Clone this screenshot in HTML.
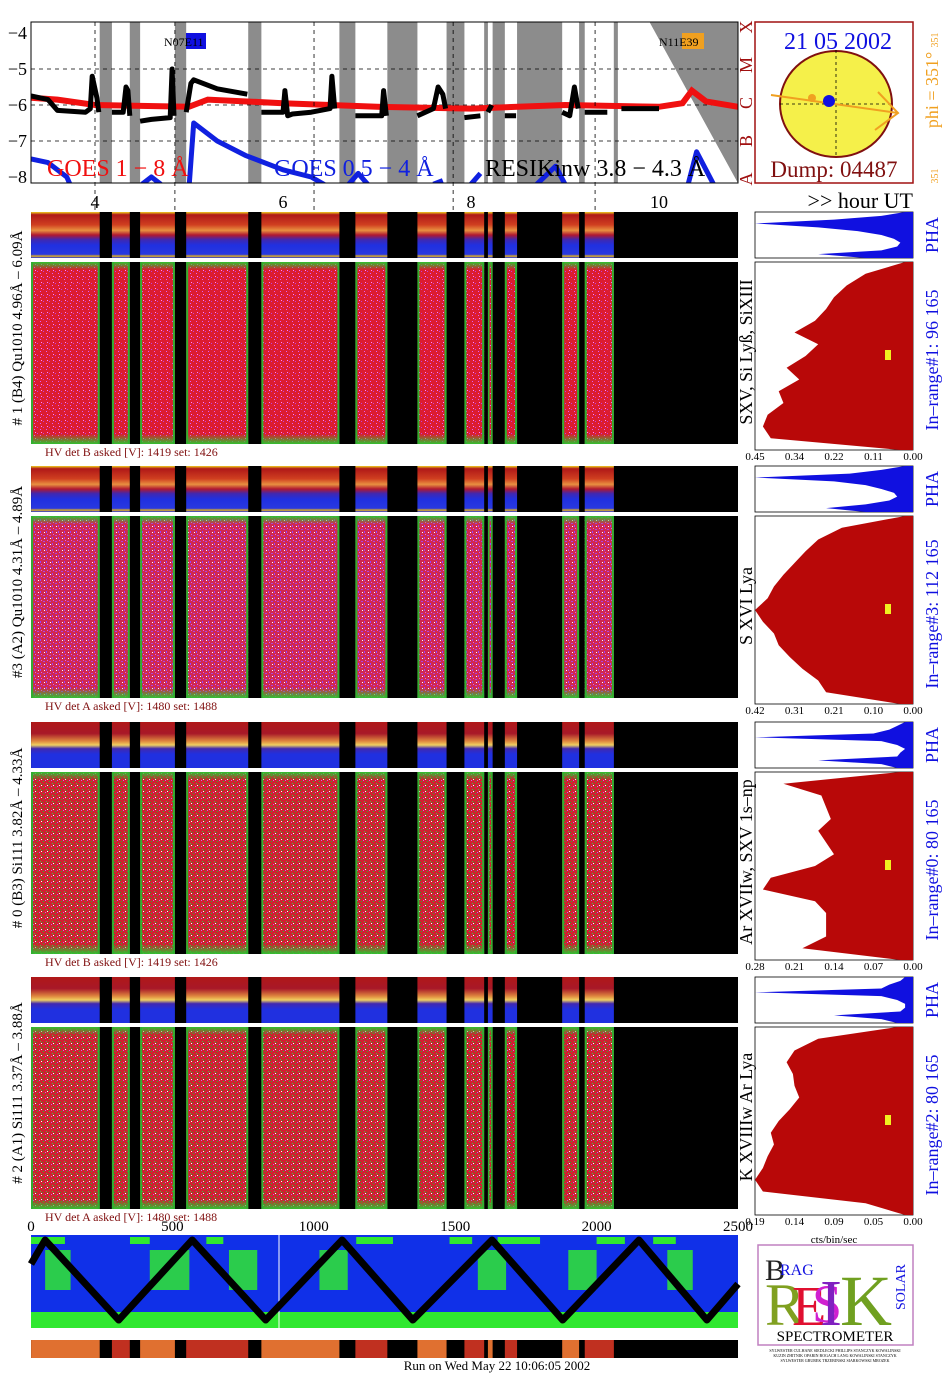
<!DOCTYPE html>
<html><head><meta charset="utf-8">
<style>
html,body{margin:0;padding:0;background:#fff;}
svg{display:block;font-family:"Liberation Serif",serif;}
</style></head>
<body>
<svg id="s" width="948" height="1377" viewBox="0 0 948 1377" xmlns="http://www.w3.org/2000/svg">
<defs>
<clipPath id="goesClip"><rect x="31" y="22" width="707" height="161"/></clipPath>
<pattern id="pRedMag" width="6" height="6" patternUnits="userSpaceOnUse">
<rect width="6" height="6" fill="#dc1c30"/><rect x="1" y="1" width="1" height="1" fill="#c040e0"/><rect x="4" y="3" width="1" height="1" fill="#e060f0"/><rect x="5" y="0" width="1" height="1" fill="#ff80ff"/>
</pattern>
<pattern id="pMag" width="6" height="6" patternUnits="userSpaceOnUse">
<rect width="6" height="6" fill="#d02850"/><rect x="1" y="1" width="2" height="1" fill="#b040e0"/><rect x="4" y="3" width="1" height="2" fill="#9a40ff"/><rect x="2" y="4" width="1" height="1" fill="#ffffff"/><rect x="5" y="0" width="1" height="1" fill="#e060f0"/>
</pattern>
<pattern id="pRedGreen" width="6" height="6" patternUnits="userSpaceOnUse">
<rect width="6" height="6" fill="#d02030"/><rect x="1" y="1" width="1" height="1" fill="#30b030"/><rect x="4" y="3" width="1" height="1" fill="#40c040"/><rect x="0" y="4" width="1" height="1" fill="#2a9a2a"/><rect x="3" y="0" width="1" height="1" fill="#d060f0"/><rect x="5" y="5" width="1" height="1" fill="#ffffff"/>
</pattern>
<linearGradient id="gStrip" x1="0" y1="0" x2="0" y2="1">
<stop offset="0" stop-color="#f0d020"/><stop offset="0.06" stop-color="#b01818"/><stop offset="0.28" stop-color="#d04020"/><stop offset="0.4" stop-color="#e89040"/><stop offset="0.5" stop-color="#b01830"/><stop offset="0.6" stop-color="#4028b0"/><stop offset="0.72" stop-color="#2030e0"/><stop offset="0.92" stop-color="#2838e0"/><stop offset="0.96" stop-color="#e0b020"/><stop offset="1" stop-color="#2030e0"/>
</linearGradient>
<linearGradient id="gStrip2" x1="0" y1="0" x2="0" y2="1">
<stop offset="0" stop-color="#b01818"/><stop offset="0.25" stop-color="#a81828"/><stop offset="0.42" stop-color="#e08a40"/><stop offset="0.5" stop-color="#f0d060"/><stop offset="0.58" stop-color="#4028b0"/><stop offset="0.7" stop-color="#2030e0"/><stop offset="1" stop-color="#2030e0"/>
</linearGradient>
<linearGradient id="gGreenTop" x1="0" y1="0" x2="0" y2="1"><stop offset="0" stop-color="#30c030"/><stop offset="1" stop-color="#30c030" stop-opacity="0"/></linearGradient>
<linearGradient id="gGreenBot" x1="0" y1="1" x2="0" y2="0"><stop offset="0" stop-color="#30c030"/><stop offset="1" stop-color="#30c030" stop-opacity="0"/></linearGradient>
</defs>
<g id="root"></g>
</svg>
<script>
// ---------- data ----------
const hourTicks = [4, 6, 8, 10];
const logTicks = [-4, -5, -6, -7, -8];
const classLabels = ["X", "M", "C", "B", "A"];
const gapStart = [4.05, 4.37, 4.85, 5.63, 6.60, 7.11, 7.74, 8.14, 8.23, 8.49, 9.15, 9.52];
const gapEnd   = [4.18, 4.48, 4.97, 5.77, 6.77, 7.43, 7.93, 8.18, 8.36, 8.97, 9.21, 10.84];
const orbitMarks = [4.0, 4.85, 6.33, 7.81, 9.32];
const goesLongT = [3.32, 3.6, 4.0, 5.0, 5.2, 6.0, 7.0, 8.0, 9.0, 10.0, 10.25, 10.35, 10.5, 10.84];
const goesLongV = [-5.8, -5.85, -6.0, -6.05, -5.85, -5.95, -6.05, -6.1, -6.0, -6.05, -5.95, -5.6, -5.9, -6.05];
const resikT = [3.32,3.5,3.6,3.9,3.95,3.97,4.02,4.04,null,4.18,4.3,4.33,4.35,4.37,null,4.48,4.6,4.8,4.82,4.84,null,4.97,5.02,5.05,5.3,5.62,null,5.77,6.0,6.02,6.05,6.1,6.3,6.5,6.52,6.55,null,6.77,7.05,7.07,7.1,null,7.43,7.6,7.65,7.7,7.73,null,7.93,8.1,null,8.18,8.22,null,8.36,8.48,null,8.97,9.05,9.1,9.12,9.14,null,9.21,9.45,null,9.6,10.0];
const resikV = [-5.75,-5.85,-6.15,-6.2,-6.1,-5.2,-5.8,-6.2,null,-6.2,-6.2,-5.5,-5.6,-6.3,null,-6.45,-6.4,-6.35,-5.0,-6.3,null,-6.2,-5.4,-5.3,-5.55,-5.7,null,-6.2,-6.2,-5.6,-6.3,-6.25,-6.2,-6.1,-5.2,-6.1,null,-6.3,-6.3,-5.6,-6.3,null,-6.3,-6.1,-5.5,-5.7,-6.1,null,-6.35,-6.3,null,-6.2,-6.0,null,-6.3,-6.3,null,-6.2,-6.3,-5.5,-5.8,-6.1,null,-6.2,-6.2,null,-6.1,-6.1];
const goesShortT = [3.32,3.5,3.7,3.75,null,4.5,4.6,4.7,null,5.0,5.05,5.3,5.6,6.0,6.3,6.5,null,6.7,6.8,6.9,null,7.6,7.7,null,8.0,8.1,null,8.7,8.9,9.0,null,10.3,10.4,10.5,10.6];
const goesShortV = [-7.5,-7.6,-8.0,-8.3,null,-8.2,-8.0,-8.2,null,-8.3,-6.5,-7.0,-7.4,-7.8,-8.0,-8.3,null,-8.2,-7.9,-8.2,null,-8.2,-8.1,null,-8.2,-7.9,null,-8.2,-7.7,-8.2,null,-8.3,-7.3,-7.8,-8.3];
const detLabels = ["# 1 (B4) Qu1010 4.96Å – 6.09Å","#3 (A2) Qu1010  4.31Å – 4.89Å","# 0 (B3) Si111  3.82Å – 4.33Å","# 2 (A1) Si111  3.37Å – 3.88Å"];
const lineLabels = ["SXV, Si Lyß, SiXIII","S XVI Lya","Ar XVIIw,  SXV 1s–np","K XVIIIw  Ar Lya"];
const rangeLabels = ["In–range#1:  96 165","In–range#3:  112 165","In–range#0:  80 165","In–range#2:  80 165"];
const hvLabels = ["HV det B asked [V]:  1419 set:  1426","HV det A asked [V]:  1480 set:  1488","HV det B asked [V]:  1419 set:  1426","HV det A asked [V]:  1480 set:  1488"];
const histTicks0 = ["0.45","0.34","0.22","0.11","0.00"];
const histTicks1 = ["0.42","0.31","0.21","0.10","0.00"];
const histTicks2 = ["0.28","0.21","0.14","0.07","0.00"];
const histTicks3 = ["0.19","0.14","0.09","0.05","0.00"];
const hist0 = [0.05,0.3,0.42,0.5,0.55,0.62,0.75,0.6,0.68,0.8,0.72,0.85,0.82,0.92,0.95,0.9,0.08];
const hist1 = [0.05,0.45,0.6,0.68,0.75,0.82,0.88,0.92,1.0,0.95,0.88,0.85,0.78,0.7,0.6,0.55,0.08];
const hist2 = [0.08,0.82,0.58,0.55,0.52,0.6,0.55,0.5,0.62,0.9,0.95,0.62,0.55,0.55,0.55,0.7,0.08];
const hist3 = [0.1,0.6,0.75,0.8,0.76,0.75,0.72,0.78,0.85,0.9,0.88,0.92,0.95,1.0,0.95,0.3,0.05];
const pha0 = [0.05,0.2,0.5,1.0,0.6,0.35,0.2,0.12,0.08,0.1,0.2,0.6,0.3];
const pha1 = [0.05,0.2,0.4,1.0,0.5,0.3,0.2,0.12,0.1,0.15,0.3,0.55,0.3];
const pha2 = [0.05,0.1,0.15,0.25,1.0,0.2,0.1,0.05,0.08,0.1,0.6,0.2,0.1];
const pha3 = [0.05,0.08,0.15,0.2,1.0,0.2,0.1,0.05,0.05,0.08,0.5,0.2,0.1];
const idxTicks = [0, 500, 1000, 1500, 2000, 2500];
const zigIdx = [0, 50, 310, 570, 830, 1100, 1350, 1630, 1880, 2150, 2390, 2500];
const zigLevel = [0.7, 1, 0, 1, 0, 1, 0, 1, 0, 1, 0, 0.45];

// ---------- helpers ----------
const NS = "http://www.w3.org/2000/svg";
const root = document.getElementById("root");
function mk(tag, attrs, parent, text){
  const e = document.createElementNS(NS, tag);
  for (const k in attrs) e.setAttribute(k, attrs[k]);
  if (text !== undefined) e.textContent = text;
  (parent || root).appendChild(e);
  return e;
}
const X0 = 31, X1 = 738;
const xH = h => 95 + (h - 4) * 94;
const yL = v => 33 + (-4 - v) * 36;
const xI = i => X0 + i * (X1 - X0) / 2500;

// ---------- GOES panel ----------
const goes = mk("g", {});


const gc = mk("g", {"clip-path": "url(#goesClip)"}, goes);
for (let i = 0; i < gapStart.length; i++) {
  const r = mk("rect", {x: xH(gapStart[i]), y: 22, width: xH(gapEnd[i]) - xH(gapStart[i]), height: 161, fill: "#8c8c8c"}, gc);
  
  
}
mk("polygon", {points: `${xH(9.52)},183 ${xH(9.52)},22 ${xH(9.9)},22 ${X1},183`, fill: "#fff"}, gc);
mk("polygon", {points: `${xH(9.9)},22 ${X1},22 ${X1},183`, fill: "#8c8c8c"}, gc);
mk("rect", {x: xH(9.52), y: 22, width: 4, height: 161, fill: "#8c8c8c"}, gc);
logTicks.slice(1, 4).forEach(v => {
  const l = mk("line", {x1: X0, x2: X1, y1: yL(v), y2: yL(v), stroke: "#000", "stroke-dasharray": "4,4", "stroke-width": 0.8}, gc);
  
  
});
orbitMarks.forEach(h => {
  const l = mk("line", {x1: xH(h), x2: xH(h), y1: 22, y2: 212, stroke: "#000", "stroke-dasharray": "4,4", "stroke-width": 0.8}, goes);
  
  
});
function pathFrom(T, V){
  let d = "", pen = false;
  for (let i = 0; i < T.length; i++) {
    if (T[i] === null) { pen = false; continue; }
    d += (pen ? "L" : "M") + xH(T[i]).toFixed(1) + "," + yL(V[i]).toFixed(1) + " ";
    pen = true;
  }
  return d;
}
const blue = mk("path", {d: pathFrom(goesShortT, goesShortV), fill: "none", stroke: "#1020e0", "stroke-width": 5, "stroke-linejoin": "round"}, gc);


const red = mk("path", {d: pathFrom(goesLongT, goesLongV), fill: "none", stroke: "#f01010", "stroke-width": 6}, gc);


const blk = mk("path", {d: pathFrom(resikT, resikV), fill: "none", stroke: "#000", "stroke-width": 5, "stroke-linejoin": "round"}, gc);


mk("rect", {x: X0, y: 22, width: X1 - X0, height: 161, fill: "none", stroke: "#000", "stroke-width": 1}, goes);
logTicks.forEach(v => {
  const t = mk("text", {x: 27, y: yL(v) + 6, "text-anchor": "end", "font-size": 18}, goes, "−" + Math.abs(v));
  
  
});
classLabels.forEach((c, i) => {
  const y = 27 + i * 38;
  const t = mk("text", {x: 0, y: 0, transform: `translate(752,${y}) rotate(-90)`, "text-anchor": "middle", "font-size": 18, fill: "#a01010"}, goes, c);
  
  
});
const ar1 = mk("g", {}, goes);


mk("rect", {x: 186, y: 33, width: 20, height: 16, fill: "#1010e0"}, ar1);
mk("text", {x: 164, y: 46, "font-size": 12}, ar1, "N07E11");
const ar2 = mk("g", {}, goes);


mk("rect", {x: 682, y: 33, width: 22, height: 16, fill: "#f0a020"}, ar2);
mk("text", {x: 659, y: 46, "font-size": 12}, ar2, "N11E39");
[["GOES 1 − 8 Å", 47, "#f01010", "goes-long-legend"], ["GOES 0.5 − 4 Å", 274, "#1020e0", "goes-short-legend"], ["RESIKinw 3.8 − 4.3 Å", 485, "#000", "resik-legend"]].forEach(a => {
  const t = mk("text", {x: a[1], y: 176, "font-size": 24, fill: a[2]}, goes, a[0]);
  
  
});
hourTicks.forEach(h => {
  const t = mk("text", {x: xH(h), y: 208, "text-anchor": "middle", "font-size": 18}, goes, String(h));
  
  
});
const hut = mk("text", {x: 913, y: 208, "text-anchor": "end", "font-size": 22}, goes, ">> hour UT");



// ---------- sun panel ----------
const sun = mk("g", {});


mk("rect", {x: 755, y: 22, width: 158, height: 161, fill: "#fff", stroke: "#a01010", "stroke-width": 1.5}, sun);
mk("ellipse", {cx: 836, cy: 104, rx: 56, ry: 53, fill: "#f5f04a", stroke: "#801010", "stroke-width": 2}, sun);
mk("line", {x1: 836, x2: 836, y1: 50, y2: 158, stroke: "#000", "stroke-dasharray": "3,3", "stroke-width": 0.8}, sun);
mk("line", {x1: 780, x2: 892, y1: 104, y2: 104, stroke: "#000", "stroke-dasharray": "3,3", "stroke-width": 0.8}, sun);
mk("line", {x1: 771, x2: 898, y1: 95, y2: 113, stroke: "#f0a020", "stroke-width": 2}, sun);
mk("polyline", {points: "878,92 898,113 875,130", fill: "none", stroke: "#f0a020", "stroke-width": 2}, sun);
mk("circle", {cx: 812, cy: 98, r: 4, fill: "#f0a020"}, sun);
mk("circle", {cx: 829, cy: 101, r: 6, fill: "#1010e0"}, sun);
mk("text", {x: 838, y: 49, "text-anchor": "middle", "font-size": 24, fill: "#1010e0"}, sun, "21 05 2002");
mk("text", {x: 834, y: 177, "text-anchor": "middle", "font-size": 23, fill: "#801010"}, sun, "Dump: 04487");
mk("text", {x: 0, y: 0, transform: "translate(938,90) rotate(-90)", "text-anchor": "middle", "font-size": 18, fill: "#f0a020"}, sun, "phi = 351°");
mk("text", {x: 0, y: 0, transform: "translate(938,40) rotate(-90)", "text-anchor": "middle", "font-size": 10, fill: "#f0a020"}, sun, "351");
mk("text", {x: 0, y: 0, transform: "translate(938,176) rotate(-90)", "text-anchor": "middle", "font-size": 10, fill: "#f0a020"}, sun, "351");

// ---------- detector panels ----------
const panelTop = [212, 466, 722, 977];
const fills = ["url(#pRedMag)", "url(#pMag)", "url(#pRedGreen)", "url(#pRedGreen)"];
const strips = ["url(#gStrip)", "url(#gStrip)", "url(#gStrip2)", "url(#gStrip2)"];
const hists = [hist0, hist1, hist2, hist3];
const phas = [pha0, pha1, pha2, pha3];
const htick = [histTicks0, histTicks1, histTicks2, histTicks3];
const segStart = [3.32].concat(gapEnd.slice(0, -1));
const segEnd = gapStart.slice();
for (let p = 0; p < 4; p++) {
  const top = panelTop[p];
  const g = mk("g", {});
  
  
  mk("rect", {x: X0, y: top, width: X1 - X0, height: 46, fill: "#000"}, g);
  mk("rect", {x: X0, y: top + 50, width: X1 - X0, height: 182, fill: "#000"}, g);
  for (let s = 0; s < segStart.length; s++) {
    const xa = xH(segStart[s]), w = xH(segEnd[s]) - xa;
    const st = mk("rect", {x: xa, y: top, width: w, height: 46, fill: strips[p]}, g);
    
    
    const sp = mk("rect", {x: xa, y: top + 50, width: w, height: 182, fill: fills[p]}, g);
    
    
    mk("rect", {x: xa, y: top + 50, width: w, height: 8, fill: "url(#gGreenTop)"}, g);
    mk("rect", {x: xa, y: top + 222, width: w, height: 10, fill: "url(#gGreenBot)"}, g);
    const ew = Math.min(2, w / 3);
    mk("rect", {x: xa, y: top + 50, width: ew, height: 182, fill: "#30b030"}, g);
    mk("rect", {x: xa + w - ew, y: top + 50, width: ew, height: 182, fill: "#30b030"}, g);
  }
  mk("line", {x1: X0, x2: X1, y1: top + 48, y2: top + 48, stroke: "#fff", "stroke-width": 2}, g);
  const hv = mk("text", {x: 45, y: top + 244, "font-size": 12, fill: "#801010"}, g, hvLabels[p]);
  
  
  const dl = mk("text", {x: 0, y: 0, transform: `translate(22,${top + 116}) rotate(-90)`, "text-anchor": "middle", "font-size": 15}, g, detLabels[p]);
  
  
  const hx0 = 755, hx1 = 913;
  mk("rect", {x: hx0, y: top, width: hx1 - hx0, height: 46, fill: "#fff", stroke: "#000", "stroke-width": 0.8}, g);
  const ph = phas[p];
  let pts = `${hx1},${top}`;
  ph.forEach((v, i) => { pts += ` ${hx1 - v * (hx1 - hx0)},${top + i * 46 / (ph.length - 1)}`; });
  pts += ` ${hx1},${top + 46}`;
  const pp = mk("polygon", {points: pts, fill: "#1010e0"}, g);
  
  
  const hy0 = top + 50, hy1 = top + 238;
  mk("rect", {x: hx0, y: hy0, width: hx1 - hx0, height: hy1 - hy0, fill: "#fff", stroke: "#000", "stroke-width": 0.8}, g);
  const hv2 = hists[p];
  let hp = `${hx1},${hy0}`;
  hv2.forEach((v, i) => { hp += ` ${hx1 - v * (hx1 - hx0)},${hy0 + i * (hy1 - hy0) / (hv2.length - 1)}`; });
  hp += ` ${hx1},${hy1}`;
  const hpoly = mk("polygon", {points: hp, fill: "#b80808"}, g);
  
  
  mk("rect", {x: 885, y: top + 138, width: 6, height: 10, fill: "#f0f020"}, g);
  htick[p].forEach((t, i) => {
    const tt = mk("text", {x: hx0 + i * (hx1 - hx0) / 4, y: hy1 + 10, "text-anchor": "middle", "font-size": 11}, g, t);
    
    
  });
  const pl = mk("text", {x: 0, y: 0, transform: `translate(938,${top + 23}) rotate(-90)`, "text-anchor": "middle", "font-size": 18, fill: "#1010e0"}, g, "PHA");
  
  
  const rl = mk("text", {x: 0, y: 0, transform: `translate(938,${top + 148}) rotate(-90)`, "text-anchor": "middle", "font-size": 18, fill: "#1010e0"}, g, rangeLabels[p]);
  
  
  const ll = mk("text", {x: 0, y: 0, transform: `translate(752,${top + 140}) rotate(-90)`, "text-anchor": "middle", "font-size": 18}, g, lineLabels[p]);
  
  
}
const cbs = mk("text", {x: 834, y: 1243, "text-anchor": "middle", "font-size": 11}, root, "cts/bin/sec");



// ---------- bottom panel ----------
const bot = mk("g", {});


idxTicks.forEach(i => {
  const t = mk("text", {x: xI(i), y: 1231, "text-anchor": "middle", "font-size": 15}, bot, String(i));
  
  
});
mk("rect", {x: X0, y: 1235, width: X1 - X0, height: 93, fill: "#1030e8"}, bot);
mk("rect", {x: X0, y: 1312, width: X1 - X0, height: 16, fill: "#30e830"}, bot);
[[0,120],[350,420],[620,680],[1150,1280],[1480,1560],[1650,1800],[2000,2100],[2200,2280]].forEach(r => {
  mk("rect", {x: xI(r[0]), y: 1237, width: xI(r[1]) - xI(r[0]), height: 7, fill: "#30e830"}, bot);
});
[[50,140],[420,560],[700,800],[1020,1120],[1580,1680],[1900,2000],[2250,2340]].forEach(r => {
  mk("rect", {x: xI(r[0]), y: 1250, width: xI(r[1]) - xI(r[0]), height: 40, fill: "#30e830", opacity: 0.85}, bot);
});
mk("line", {x1: 279, x2: 279, y1: 1235, y2: 1328, stroke: "#fff", "stroke-width": 1}, bot);
let zp = "";
zigIdx.forEach((i, k) => { zp += (k ? " " : "") + xI(i).toFixed(1) + "," + (1320 - zigLevel[k] * 80).toFixed(1); });
const zz = mk("polyline", {points: zp, fill: "none", stroke: "#000", "stroke-width": 7, "stroke-linejoin": "round"}, bot);


mk("rect", {x: X0, y: 1340, width: X1 - X0, height: 18, fill: "#000"}, bot);
for (let s = 0; s < segStart.length; s++) {
  const xa = xH(segStart[s]), w = xH(segEnd[s]) - xa;
  const r = mk("rect", {x: xa, y: 1340, width: w, height: 18, fill: s % 2 ? "#c03020" : "#e07030"}, bot);
  
  
}
const run = mk("text", {x: 497, y: 1370, "text-anchor": "middle", "font-size": 13}, bot, "Run on Wed May 22 10:06:05 2002");



// ---------- logo ----------
const logo = mk("g", {});


mk("rect", {x: 758, y: 1245, width: 155, height: 100, fill: "#fff", stroke: "#c080c0", "stroke-width": 1.5}, logo);
mk("text", {x: 765, y: 1280, "font-size": 30, fill: "#222"}, logo, "B");
mk("text", {x: 780, y: 1275, "font-size": 16, fill: "#1010e0"}, logo, "RAG");
mk("text", {x: 765, y: 1325, "font-size": 60, fill: "#80a020"}, logo, "R");
mk("text", {x: 792, y: 1325, "font-size": 56, fill: "#e01030"}, logo, "E");
mk("text", {x: 812, y: 1322, "font-size": 54, fill: "#d020d0"}, logo, "S");
mk("text", {x: 820, y: 1325, "font-size": 66, fill: "#8020c0"}, logo, "I");
mk("text", {x: 840, y: 1325, "font-size": 72, fill: "#70a020"}, logo, "K");
mk("text", {x: 0, y: 0, transform: "translate(905,1310) rotate(-90)", "font-size": 14, fill: "#1010e0"}, logo, "SOLAR");
mk("text", {x: 835, y: 1341, "text-anchor": "middle", "font-size": 15}, logo, "SPECTROMETER");
mk("text", {x: 835, y: 1352, "text-anchor": "middle", "font-size": 4}, logo, "SYLWESTER  CULHANE  SIEDLECKI  PHILLIPS  STANCZYK  KOWALINSKI");
mk("text", {x: 835, y: 1357, "text-anchor": "middle", "font-size": 4}, logo, "KUZIN  ZHITNIK  OPARIN  BOGACH  LANG  KOWALINSKI  STANCZYK");
mk("text", {x: 835, y: 1362, "text-anchor": "middle", "font-size": 4}, logo, "SYLWESTER  GBUREK  TRZEBINSKI  SIARKOWSKI  MROZEK");
</script>
</body></html>
